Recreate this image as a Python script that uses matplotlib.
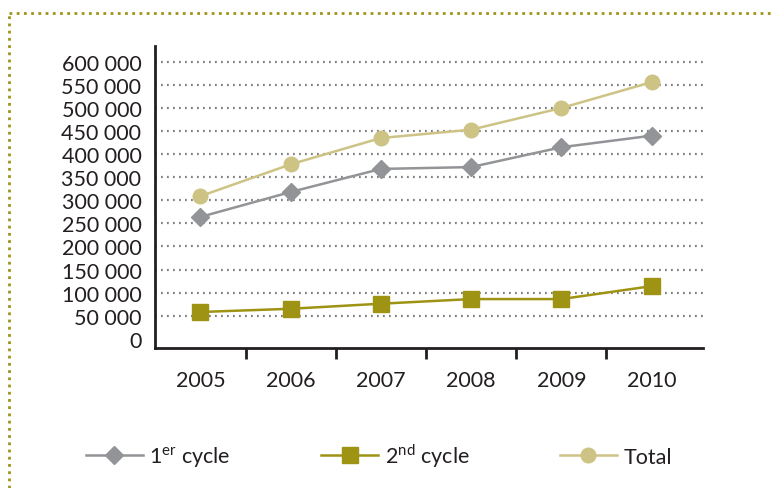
import matplotlib.pyplot as plt
from matplotlib.lines import Line2D
import numpy as np

plt.rcParams["font.family"] = ["Lato", "DejaVu Sans"]
plt.rcParams["mathtext.fontset"] = "custom"
plt.rcParams["mathtext.rm"] = "Lato"

years = ["2005", "2006", "2007", "2008", "2009", "2010"]
cycle1 = [264000, 318000, 368000, 372000, 415000, 440000]
cycle2 = [58000, 65000, 76000, 86000, 86000, 114000]
total = [309000, 378000, 435000, 453000, 500000, 556000]
yticks = list(range(0, 600001, 50000))
ylabels = ["{:,}".format(v).replace(",", " ") for v in yticks]

grey = "#929497"
olive = "#9f9314"
sand = "#cdc384"
dark = "#231f20"

fig = plt.figure(figsize=(7.72, 4.89), dpi=100)
ax = fig.add_axes([0.2012, 0.2863, 0.7094, 0.6182])

x = np.arange(len(years))
for v in yticks[1:]:
    ax.axhline(v, color="#808080", lw=1.6, ls=(0, (0.8, 1.9)), zorder=1)

l1, = ax.plot(x, cycle1, color=grey, lw=1.8, marker="D", ms=9.5, zorder=3,
              label="1$^{\\mathrm{er}}$ cycle")
l2, = ax.plot(x, cycle2, color=olive, lw=1.8, marker="s", ms=11.5, zorder=3,
              label="2$^{\\mathrm{nd}}$ cycle")
l3, = ax.plot(x, total, color=sand, lw=1.8, marker="o", ms=10.5, zorder=3,
              label="Total")

ax.set_xlim(-0.5, 5.57)
ax.set_ylim(-20000, 635000)
ax.set_yticks(yticks)
ax.set_yticklabels(ylabels)
ax.tick_params(axis="y", length=0, pad=10, labelsize=15.5, labelcolor=dark)

ax.set_xticks(x[:-1] + 0.5)
ax.set_xticklabels([])
ax.set_xticks(x, minor=True)
ax.set_xticklabels(years, minor=True)
ax.tick_params(axis="x", which="major", length=8, width=2, color=dark, direction="out")
ax.tick_params(axis="x", which="minor", length=0, pad=16, labelsize=15.5, labelcolor=dark)

for s in ["top", "right"]:
    ax.spines[s].set_visible(False)
for s in ["left", "bottom"]:
    ax.spines[s].set_color(dark)
    ax.spines[s].set_linewidth(2)

fig.legend(handles=[l1, l2, l3], loc="center left", bbox_to_anchor=(0.111, 0.067),
           ncol=3, frameon=False, fontsize=15.5, handlelength=2.65,
           handletextpad=0.3, columnspacing=4.2, labelcolor=dark,
           borderaxespad=0, borderpad=0)

# dotted frame
fig.add_artist(Line2D([9 / 772, 1], [1 - 14 / 489, 1 - 14 / 489], transform=fig.transFigure,
                      color="#a0931a", lw=2, ls=(0, (1, 1.6))))
fig.add_artist(Line2D([9 / 772, 9 / 772], [0, 1 - 14 / 489], transform=fig.transFigure,
                      color="#a0931a", lw=2, ls=(0, (1, 1.6))))

fig.savefig("out.png", dpi=100)
